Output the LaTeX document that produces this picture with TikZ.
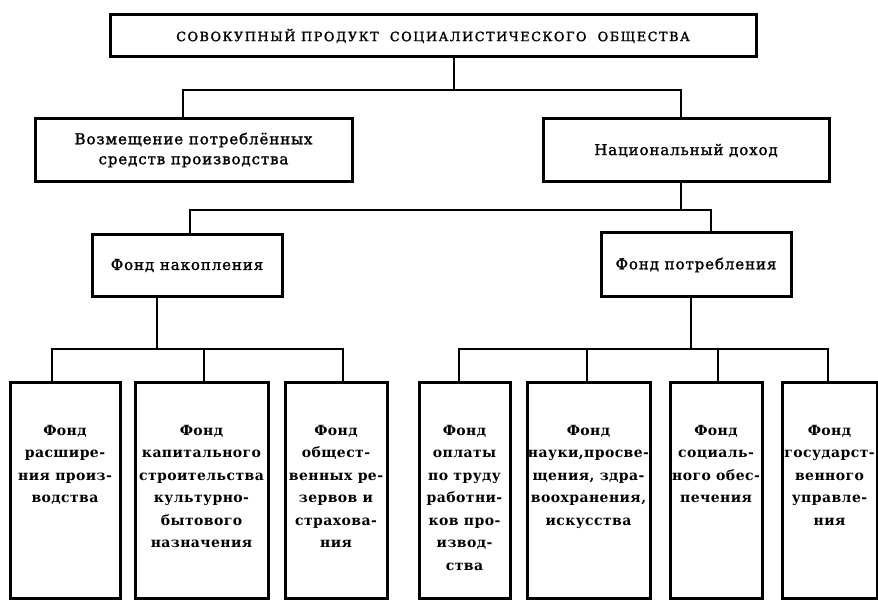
\documentclass[tikz,border=0pt]{standalone}
\usepackage{fontspec}
\setmainfont{DejaVu Serif}
\newfontfamily\headfont[LetterSpace=12, FakeBold=1.5]{DejaVu Serif}
\newfontfamily\midfont[LetterSpace=6, FakeBold=1.5]{DejaVu Serif}
\newfontfamily\fundfont[LetterSpace=3]{DejaVu Serif}
\usetikzlibrary{positioning}

\tikzset{
  box/.style={draw=black, line width=3pt, inner sep=0pt, outer sep=0pt, fill=white},
  link/.style={line width=2.4pt},
  headtext/.style={font=\headfont\fontsize{12.8}{14}\selectfont},
  midtext/.style={align=center, font=\midfont\fontsize{15}{20}\selectfont},
  fundtext/.style={align=center, inner sep=0pt, font=\fundfont\bfseries\fontsize{14}{22.5}\selectfont}
}

\begin{document}
\begin{tikzpicture}[x=1pt, y=-1pt]
\useasboundingbox (0,0) rectangle (878,601);
% top level
\node[box, headtext, minimum width=646pt, minimum height=42pt] (total) at (433,36) {СОВОКУПНЫЙ ПРОДУКТ\ \ СОЦИАЛИСТИЧЕСКОГО\ \ ОБЩЕСТВА};
% second level
\node[box, midtext, minimum width=317pt, minimum height=63pt] (repl) at (193.5,150) {Возмещение потреблённых\\средств производства};
\node[box, midtext, minimum width=286pt, minimum height=63pt] (natinc) at (686,150.5) {Национальный доход};
% third level
\node[box, midtext, minimum width=190pt, minimum height=62pt] (accum) at (187,265.5) {Фонд накопления};
\node[box, midtext, minimum width=190pt, minimum height=64pt] (consum) at (696,265) {Фонд потребления};
% funds
\node[box, minimum width=110pt, minimum height=215pt] (fund1) at (65,490.5) {};
\node[box, minimum width=133pt, minimum height=215pt] (fund2) at (201.5,490.5) {};
\node[box, minimum width=102pt, minimum height=215pt] (fund3) at (336,490.5) {};
\node[box, minimum width=91pt, minimum height=215pt] (fund4) at (464.5,490.5) {};
\node[box, minimum width=123pt, minimum height=215pt] (fund5) at (588.5,490.5) {};
\node[box, minimum width=92pt, minimum height=215pt] (fund6) at (716,490.5) {};
\node[box, minimum width=95pt, minimum height=215pt] (fund7) at (829.5,490.5) {};
\node[fundtext, below=42pt of fund1.north] (text1) {Фонд\\расшире-\\ния произ-\\водства};
\node[fundtext, below=42pt of fund2.north] (text2) {Фонд\\капитального\\строительства\\культурно-\\бытового\\назначения};
\node[fundtext, below=42pt of fund3.north] (text3) {Фонд\\общест-\\венных ре-\\зервов и\\страхова-\\ния};
\node[fundtext, below=42pt of fund4.north] (text4) {Фонд\\оплаты\\по труду\\работни-\\ков про-\\извод-\\ства};
\node[fundtext, below=42pt of fund5.north] (text5) {Фонд\\науки,просве-\\щения, здра-\\воохранения,\\искусства};
\node[fundtext, below=42pt of fund6.north] (text6) {Фонд\\социаль-\\ного обес-\\печения};
\node[fundtext, below=42pt of fund7.north] (text7) {Фонд\\государст-\\венного\\управле-\\ния};
% joints
\coordinate (j1) at (454,90);
\coordinate (j1l) at (183,90);
\coordinate (j1r) at (681,90);
\coordinate (j2) at (681,210);
\coordinate (j2l) at (190,210);
\coordinate (j2r) at (711,210);
\coordinate (j3) at (157,349);
\coordinate (k1) at (52,349);
\coordinate (k2) at (204,349);
\coordinate (k3) at (343,349);
\coordinate (j4) at (691,349);
\coordinate (k4) at (459,349);
\coordinate (k5) at (587,349);
\coordinate (k6) at (718,349);
\coordinate (k7) at (828,349);
% connectors
\draw[link] (total.south -| j1) -- (j1);
\draw[link] (repl.north -| j1l) -- (j1l) -- (j1r) -- (natinc.north -| j1r);
\draw[link] (natinc.south -| j2) -- (j2);
\draw[link] (accum.north -| j2l) -- (j2l) -- (j2r) -- (consum.north -| j2r);
\draw[link] (accum.south -| j3) -- (j3);
\draw[link] (fund1.north -| k1) -- (k1) -- (k3) -- (fund3.north -| k3);
\draw[link] (k2) -- (fund2.north -| k2);
\draw[link] (consum.south -| j4) -- (j4);
\draw[link] (fund4.north -| k4) -- (k4) -- (k7) -- (fund7.north -| k7);
\draw[link] (k5) -- (fund5.north -| k5);
\draw[link] (k6) -- (fund6.north -| k6);
\end{tikzpicture}
\end{document}
